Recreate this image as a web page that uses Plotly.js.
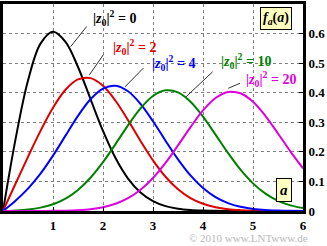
<!DOCTYPE html>
<html>
<head>
<meta charset="utf-8">
<script src="https://cdn.plot.ly/plotly-3.0.1.min.js"></script>
<style>html,body{margin:0;padding:0;background:#fff;}#chart{width:327px;height:246px;}</style>
</head>
<body>
<div id="chart"></div>
<script>
// amplitude a (x axis)
const aValues = [0,0.25,0.5,0.75,1,1.25,1.5,1.75,2,2.25,2.5,2.75,3,3.25,3.5,3.75,4,4.25,4.5,4.75,5,5.25,5.5,5.75,6];
// PDF values f_a(a) for each |z0|^2
const f_z0_0  = [0,0.2423,0.4413,0.5661,0.6065,0.5723,0.4870,0.3785,0.2707,0.1790,0.1098,0.0627,0.0333,0.0165,0.0077,0.0033,0.0013,0.0005,0.0002,0.0001,0,0,0,0,0];
const f_z0_2  = [0,0.0920,0.1833,0.2711,0.3494,0.4101,0.4450,0.4494,0.4234,0.3729,0.3073,0.2370,0.1711,0.1158,0.0734,0.0436,0.0243,0.0127,0.0062,0.0029,0.0012,0.0005,0.0002,0.0001,0];
const f_z0_4  = [0,0.0349,0.0756,0.1262,0.1871,0.2548,0.3217,0.3779,0.4140,0.4235,0.4049,0.3622,0.3033,0.2378,0.1747,0.1203,0.0776,0.0470,0.0267,0.0142,0.0071,0.0033,0.0015,0.0006,0.0002];
const f_z0_10 = [0,0.0019,0.0051,0.0114,0.0228,0.0419,0.0712,0.1123,0.1650,0.2262,0.2897,0.3470,0.3889,0.4081,0.4012,0.3696,0.3192,0.2585,0.1963,0.1398,0.0935,0.0586,0.0345,0.0190,0.0099];
const f_z0_20 = [0,0,0.0001,0.0002,0.0005,0.0012,0.0028,0.0062,0.0127,0.0243,0.0432,0.0718,0.1117,0.1626,0.2219,0.2837,0.3400,0.3820,0.4026,0.3980,0.3691,0.3212,0.2622,0.2009,0.1445];

const seriesLabels = ["0","2","4","10","20"];
const seriesColors = ["#000000","#dd0000","#0000ff","#008000","#dd00dd"];
const seriesData = [f_z0_0, f_z0_2, f_z0_4, f_z0_10, f_z0_20];

const xTickVals = [0,1,2,3,4,5,6];
const xTickText = ["0","1","2","3","4","5","6"];
const yTickVals = [0,0.1,0.2,0.3,0.4,0.5,0.6];
const yTickText = ["0","0.1","0.2","0.3","0.4","0.5","0.6"];

// label positions (data coords) and leader lines
const labelPos = [[2.23,0.652],[2.62,0.555],[3.41,0.502],[4.85,0.508],[5.36,0.445]];
const leaders = [
  [1.674,0.624,1.354,0.556],
  [2.006,0.528,1.726,0.460],
  [2.806,0.483,2.440,0.420],
  [4.194,0.471,3.660,0.386],
  [4.740,0.432,4.506,0.415]
];

const traces = seriesData.map((ys,i)=>({
  x: aValues, y: ys, type:'scatter', mode:'lines',
  line:{color:seriesColors[i], width:2, shape:'spline', smoothing:1},
  hoverinfo:'skip', showlegend:false
}));

const serif = "Liberation Serif, Times New Roman, serif";
const annotations = seriesLabels.map((s,i)=>({
  x: labelPos[i][0], y: labelPos[i][1], xref:'x', yref:'y',
  text: '<b>|<i>z</i><sub>0</sub>|<sup>2</sup> = '+s+'</b>',
  showarrow:false, xanchor:'center', yanchor:'middle',
  font:{family:serif, size:14, color:seriesColors[i]}
}));
annotations.push({
  x:5.45, y:0.650, xref:'x', yref:'y',
  text:'<b><i>f</i><sub><i>a</i></sub>(<i>a</i>)</b>',
  showarrow:false, xanchor:'center', yanchor:'middle',
  bgcolor:'#ffffc0', bordercolor:'#000', borderwidth:1, borderpad:2,
  font:{family:serif, size:14, color:'#000'}
});
annotations.push({
  x:5.62, y:0.070, xref:'x', yref:'y',
  text:'<b><i>a</i></b>',
  showarrow:false, xanchor:'center', yanchor:'middle',
  bgcolor:'#ffffc0', bordercolor:'#000', borderwidth:1, borderpad:3,
  font:{family:serif, size:15, color:'#000'}
});
annotations.push({
  x:0.82, y:-0.168, xref:'paper', yref:'paper',
  text:'© 2010 www.LNTwww.de',
  showarrow:false, xanchor:'center', yanchor:'bottom',
  font:{family:serif, size:11, color:'#b8b8b8'}
});

const shapes = leaders.map(l=>({
  type:'line', xref:'x', yref:'y', x0:l[0], y0:l[1], x1:l[2], y1:l[3],
  line:{color:'#333333', width:1}
}));

const layout = {
  width:327, height:246,
  margin:{l:3, r:24, t:4, b:35},
  paper_bgcolor:'#ffffff', plot_bgcolor:'#ffffff',
  showlegend:false,
  xaxis:{
    range:[0,6], tickvals:xTickVals, ticktext:xTickText,
    showline:true, linewidth:3, linecolor:'#000', mirror:true,
    showgrid:true, gridcolor:'#808080', gridwidth:1, griddash:'dot',
    zeroline:false, ticks:'inside', ticklen:4, tickcolor:'#000',
    tickfont:{family:serif, size:13, color:'#000', weight:'bold'}
  },
  yaxis:{
    range:[0,0.7], side:'right', tickvals:yTickVals, ticktext:yTickText,
    showline:true, linewidth:3, linecolor:'#000', mirror:true,
    showgrid:true, gridcolor:'#808080', gridwidth:1, griddash:'dot',
    zeroline:false, ticks:'inside', ticklen:4, tickcolor:'#000',
    tickfont:{family:serif, size:13, color:'#000', weight:'bold'}
  },
  annotations: annotations,
  shapes: shapes
};

Plotly.newPlot('chart', traces, layout, {staticPlot:true, displayModeBar:false});
</script>
</body>
</html>
